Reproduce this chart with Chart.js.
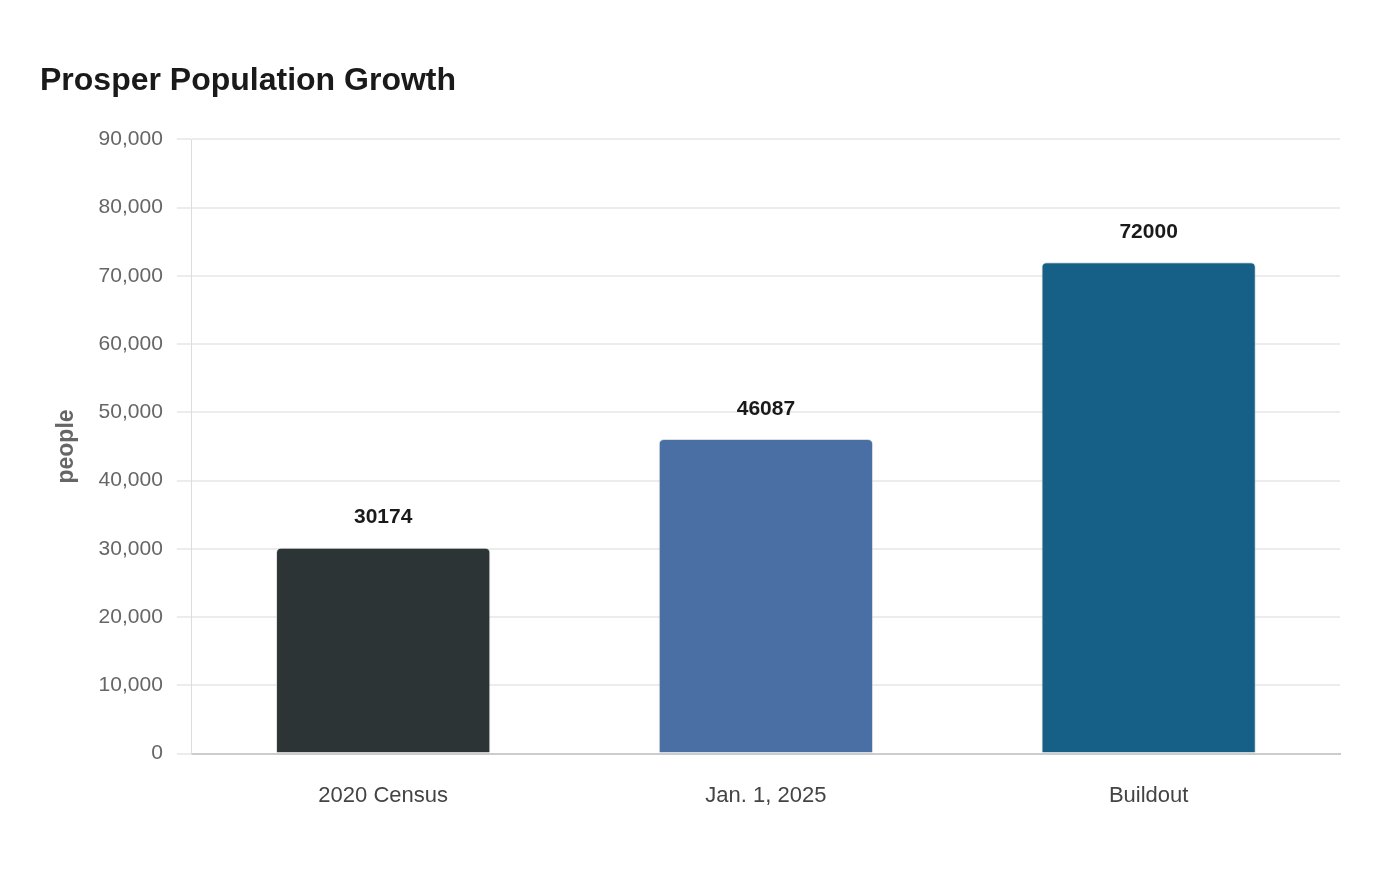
<!DOCTYPE html>
<html>
<head>
<meta charset="utf-8">
<script src="https://cdn.jsdelivr.net/npm/chart.js@4/dist/chart.umd.min.js"></script>
<style>
  html, body { margin: 0; padding: 0; background: #fff; }
  #wrap { width: 1400px; height: 880px; }
</style>
</head>
<body>
<div id="wrap"><canvas id="popChart" width="1400" height="880"></canvas></div>
<script>
// chart data
const categories = ['2020 Census', 'Jan. 1, 2025', 'Buildout'];
const population = [30174, 46087, 72000];
const barColors = ['#2d3436', '#4a6fa5', '#166088'];
const yTicks = [0, 10000, 20000, 30000, 40000, 50000, 60000, 70000, 80000, 90000];

Chart.defaults.font.family = '"Liberation Sans", Arial, sans-serif';

// draws the value above each bar
const valueLabels = {
    id: 'valueLabels',
    afterDatasetsDraw(chart) {
        const ctx = chart.ctx;
        const meta = chart.getDatasetMeta(0);
        ctx.save();
        ctx.font = 'bold 21px "Liberation Sans", Arial, sans-serif';
        ctx.fillStyle = '#1a1a1a';
        ctx.textAlign = 'center';
        ctx.textBaseline = 'middle';
        meta.data.forEach(function (bar, i) {
            ctx.fillText(String(population[i]), bar.x, bar.y - 30);
        });
        ctx.restore();
    }
};

const chartData = {
    labels: categories,
    datasets: [{
        label: 'people',
        data: population,
        backgroundColor: barColors,
        borderColor: 'rgba(200,200,200,0.6)',
        borderWidth: { top: 1, left: 1, right: 1, bottom: 0 },
        borderRadius: { topLeft: 5, topRight: 5 },
        borderSkipped: 'bottom',
        categoryPercentage: 0.56,
        barPercentage: 1.0
    }]
};

const chartConfig = {
    type: 'bar',
    data: chartData,
    options: {
        responsive: false,
        maintainAspectRatio: false,
        devicePixelRatio: 1,
        animation: false,
        layout: { padding: { left: 40, right: 60, top: 20, bottom: 50 } },
        plugins: {
            legend: { display: false },
            tooltip: { enabled: false },
            title: {
                display: true,
                text: 'Prosper Population Growth',
                align: 'start',
                color: '#1a1a1a',
                font: { size: 32, weight: 'bold' },
                padding: { top: 42, bottom: 39 }
            }
        },
        scales: {
            x: {
                grid: { display: false },
                border: { color: '#cccccc', width: 2 },
                ticks: { color: '#444', font: { size: 22 }, padding: 21 }
            },
            y: {
                min: 0,
                max: 90000,
                afterBuildTicks(axis) {
                    axis.ticks = yTicks.map(v => ({ value: v }));
                },
                grid: { color: '#ececec', lineWidth: 2, tickLength: 15 },
                border: { color: '#dddddd', width: 1 },
                ticks: {
                    color: '#666',
                    font: { size: 21 },
                    padding: 14,
                    callback: v => v.toLocaleString('en-US')
                },
                title: {
                    display: true,
                    text: 'people',
                    color: '#666',
                    font: { size: 23, weight: 'bold' },
                    padding: { top: 13, bottom: 4 }
                }
            }
        }
    },
    plugins: [valueLabels]
};

const myChart = new Chart(document.getElementById('popChart'), chartConfig);
</script>
</body>
</html>
